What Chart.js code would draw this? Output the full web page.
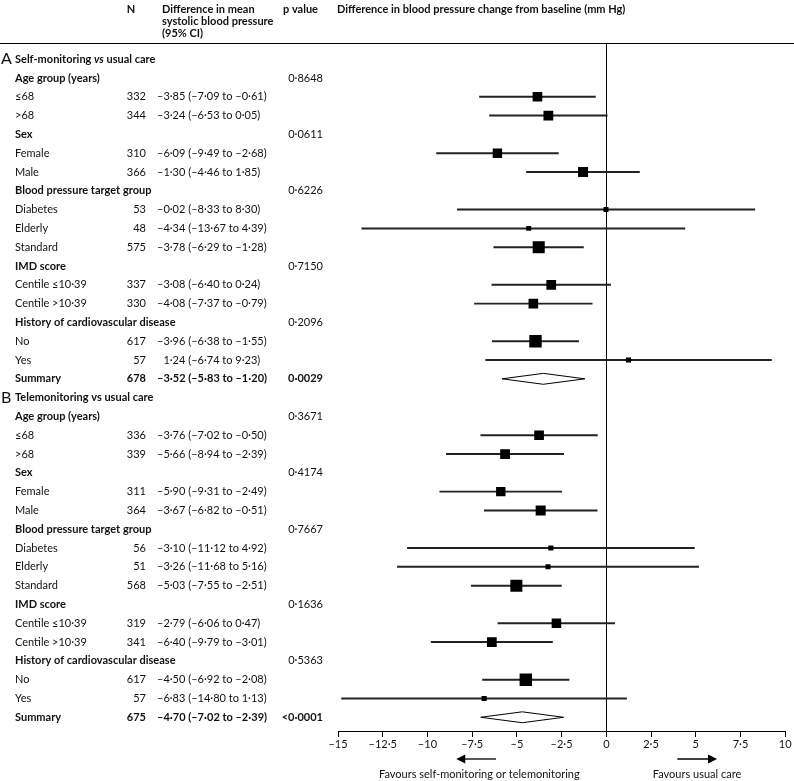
<!DOCTYPE html>
<html>
<head>
<meta charset="utf-8">
<script src="https://cdn.jsdelivr.net/npm/chart.js@4.4.0/dist/chart.umd.min.js"></script>
<style>
  html, body { margin: 0; padding: 0; background: #fff; }
</style>
</head>
<body>
<canvas id="forest" width="794" height="781"></canvas>
<script>
// one entry per table row, top to bottom
const rowLabels = [
  'Self-monitoring vs usual care', 'Age group (years)', '≤68', '>68',
  'Sex', 'Female', 'Male',
  'Blood pressure target group', 'Diabetes', 'Elderly', 'Standard',
  'IMD score', 'Centile ≤10·39', 'Centile >10·39',
  'History of cardiovascular disease', 'No', 'Yes', 'Summary',
  'Telemonitoring vs usual care', 'Age group (years)', '≤68', '>68',
  'Sex', 'Female', 'Male',
  'Blood pressure target group', 'Diabetes', 'Elderly', 'Standard',
  'IMD score', 'Centile ≤10·39', 'Centile >10·39',
  'History of cardiovascular disease', 'No', 'Yes', 'Summary'
];
// section = panel title, group = bold subgroup heading, item = estimate, summary = pooled
const rowKinds = [
  'section', 'group', 'item', 'item', 'group', 'item', 'item',
  'group', 'item', 'item', 'item', 'group', 'item', 'item',
  'group', 'item', 'item', 'summary',
  'section', 'group', 'item', 'item', 'group', 'item', 'item',
  'group', 'item', 'item', 'item', 'group', 'item', 'item',
  'group', 'item', 'item', 'summary'
];
const nValues = [
  null, null, 332, 344, null, 310, 366, null, 53, 48, 575, null, 337, 330, null, 617, 57, 678,
  null, null, 336, 339, null, 311, 364, null, 56, 51, 568, null, 319, 341, null, 617, 57, 675
];
const estimates = [
  null, null, -3.85, -3.24, null, -6.09, -1.30, null, -0.02, -4.34, -3.78, null, -3.08, -4.08, null, -3.96, 1.24, -3.52,
  null, null, -3.76, -5.66, null, -5.90, -3.67, null, -3.10, -3.26, -5.03, null, -2.79, -6.40, null, -4.50, -6.83, -4.70
];
const ciLow = [
  null, null, -7.09, -6.53, null, -9.49, -4.46, null, -8.33, -13.67, -6.29, null, -6.40, -7.37, null, -6.38, -6.74, -5.83,
  null, null, -7.02, -8.94, null, -9.31, -6.82, null, -11.12, -11.68, -7.55, null, -6.06, -9.79, null, -6.92, -14.80, -7.02
];
const ciHigh = [
  null, null, -0.61, 0.05, null, -2.68, 1.85, null, 8.30, 4.39, -1.28, null, 0.24, -0.79, null, -1.55, 9.23, -1.20,
  null, null, -0.50, -2.39, null, -2.49, -0.51, null, 4.92, 5.16, -2.51, null, 0.47, -3.01, null, -2.08, 1.13, -2.39
];
const pValues = [
  null, '0·8648', null, null, '0·0611', null, null, '0·6226', null, null, null, '0·7150', null, null, '0·2096', null, null, '0·0029',
  null, '0·3671', null, null, '0·4174', null, null, '0·7667', null, null, null, '0·1636', null, null, '0·5363', null, null, '<0·0001'
];
const panelLetters = ['A', 'B'];
const xTicks = [-15, -12.5, -10, -7.5, -5, -2.5, 0, 2.5, 5, 7.5, 10];
const xTickLabels = ['–15', '–12·5', '–10', '–7·5', '–5', '–2·5', '0', '2·5', '5', '7·5', '10'];

const FONT = 'Lato, "Open Sans", sans-serif';
const INK = '#111';

function fmt(v) {
  return v.toFixed(2).replace('-', '–').replace('.', '·');
}

// build datasets from the arrays
const squares = [];
const squareSizes = [];
const whiskers = [];
const diamonds = [];
rowKinds.forEach((kind, k) => {
  if (kind === 'item') {
    squares.push({ x: estimates[k], y: k });
    // box side grows with group size
    const side = 2 + 0.42 * Math.sqrt(nValues[k]);
    squareSizes.push(side / Math.SQRT2);
    whiskers.push({ x: [ciLow[k], ciHigh[k]], y: k });
  } else if (kind === 'summary') {
    const h = 0.29;
    diamonds.push({
      type: 'scatter',
      showLine: true,
      data: [
        { x: ciLow[k], y: k }, { x: estimates[k], y: k - h },
        { x: ciHigh[k], y: k }, { x: estimates[k], y: k + h },
        { x: ciLow[k], y: k }
      ],
      borderColor: '#000',
      borderWidth: 1,
      backgroundColor: '#fff',
      pointRadius: 0,
      tension: 0,
      order: 1
    });
  }
});

const tablePlugin = {
  id: 'forestTable',
  afterDraw(chart) {
    const ctx = chart.ctx;
    const ys = chart.scales.y;
    const xs = chart.scales.x;
    const area = chart.chartArea;
    ctx.save();
    ctx.fillStyle = INK;
    ctx.strokeStyle = '#000';
    ctx.textBaseline = 'middle';

    // column headers
    ctx.font = 'bold 11px ' + FONT;
    ctx.textAlign = 'center';
    ctx.fillText('N', 131, 9);
    ctx.textAlign = 'left';
    ctx.fillText('Difference in mean', 162, 9);
    ctx.fillText('systolic blood pressure', 162, 21);
    ctx.fillText('(95% CI)', 162, 33);
    ctx.fillText('p value', 283, 9);
    ctx.fillText('Difference in blood pressure change from baseline (mm Hg)', 337, 9);

    // rule under the header
    ctx.lineWidth = 1;
    ctx.beginPath();
    ctx.moveTo(0, area.top + 0.5);
    ctx.lineTo(chart.width, area.top + 0.5);
    ctx.stroke();

    let panel = 0;
    rowKinds.forEach((kind, k) => {
      const yy = ys.getPixelForValue(k);
      if (kind === 'section') {
        ctx.font = '16px ' + FONT;
        ctx.textAlign = 'left';
        ctx.fillText(panelLetters[panel], 1, yy);
        // first panel title has an italic "vs"
        const parts = rowLabels[k].split(' vs ');
        let cx = 15;
        ctx.font = 'bold 11px ' + FONT;
        ctx.fillText(parts[0] + ' ', cx, yy);
        cx += ctx.measureText(parts[0] + ' ').width;
        ctx.font = (panel === 0 ? 'italic ' : '') + 'bold 11px ' + FONT;
        ctx.fillText('vs', cx, yy);
        cx += ctx.measureText('vs').width;
        ctx.font = 'bold 11px ' + FONT;
        ctx.fillText(' ' + parts[1], cx, yy);
        panel++;
        return;
      }
      const bold = kind !== 'item';
      ctx.font = (bold ? 'bold ' : '') + '11px ' + FONT;
      ctx.textAlign = 'left';
      ctx.fillText(rowLabels[k], 15, yy);
      if (nValues[k] !== null) {
        ctx.textAlign = 'right';
        ctx.fillText(String(nValues[k]), 146, yy);
        ctx.textAlign = 'left';
        let cx = 157;
        if (estimates[k] >= 0) cx += ctx.measureText('–').width;
        ctx.fillText(fmt(estimates[k]) + ' (' + fmt(ciLow[k]) + ' to ' + fmt(ciHigh[k]) + ')', cx, yy);
      }
      if (pValues[k] !== null) {
        ctx.font = (kind === 'summary' ? 'bold ' : '') + '11px ' + FONT;
        ctx.textAlign = 'right';
        ctx.fillText(pValues[k], 323, yy);
      }
    });

    // direction arrows under the axis
    const ay = 759;
    ctx.lineWidth = 1.3;
    const arrow = (from, to) => {
      const x0 = xs.getPixelForValue(from);
      const x1 = xs.getPixelForValue(to);
      const dir = Math.sign(x1 - x0);
      ctx.beginPath();
      ctx.moveTo(x0, ay);
      ctx.lineTo(x1 - dir * 8, ay);
      ctx.stroke();
      ctx.beginPath();
      ctx.moveTo(x1, ay);
      ctx.lineTo(x1 - dir * 9, ay - 4.5);
      ctx.lineTo(x1 - dir * 9, ay + 4.5);
      ctx.closePath();
      ctx.fill();
    };
    ctx.fillStyle = '#000';
    arrow(-6.17, -8.39);
    arrow(3.97, 6.19);
    ctx.fillStyle = INK;
    ctx.font = '11px ' + FONT;
    ctx.textAlign = 'center';
    ctx.fillText('Favours self-monitoring or telemonitoring', xs.getPixelForValue(-7.1), 774);
    ctx.fillText('Favours usual care', xs.getPixelForValue(5.07), 774);
    ctx.restore();
  }
};

const ctx = document.getElementById('forest').getContext('2d');
const forestChart = new Chart(ctx, {
  type: 'scatter',
  data: {
    datasets: [
      {
        type: 'bar',
        indexAxis: 'y',
        data: whiskers,
        backgroundColor: '#222',
        borderWidth: 0,
        barThickness: 1.3,
        grouped: false,
        order: 2
      },
      {
        data: squares,
        pointStyle: 'rect',
        pointRadius: squareSizes,
        pointBackgroundColor: '#000',
        pointBorderWidth: 0,
        order: 0
      },
      ...diamonds
    ]
  },
  options: {
    responsive: false,
    animation: false,
    layout: { padding: { left: 338, right: 6, top: 43, bottom: 0 } },
    plugins: {
      legend: { display: false },
      tooltip: { enabled: false }
    },
    scales: {
      x: {
        type: 'linear',
        min: -15,
        max: 10,
        offset: false,
        afterBuildTicks: (axis) => { axis.ticks = xTicks.map(v => ({ value: v })); },
        afterFit: (axis) => { axis.height = 50; },
        ticks: {
          autoSkip: false,
          maxRotation: 0,
          padding: 1,
          color: INK,
          font: { family: FONT, size: 11 },
          callback: (v) => xTickLabels[xTicks.indexOf(v)]
        },
        grid: {
          offset: false,
          drawOnChartArea: true,
          drawTicks: true,
          tickLength: 6,
          tickColor: '#000',
          color: (c) => (c.tick && c.tick.value === 0 ? '#000' : 'rgba(0,0,0,0)'),
          lineWidth: 1
        },
        border: { display: true, color: '#000', width: 1 }
      },
      y: {
        type: 'linear',
        display: false,
        reverse: true,
        offset: false,
        grid: { offset: false },
        min: -0.86,
        max: 35.73
      }
    }
  },
  plugins: [tablePlugin]
});
</script>
</body>
</html>
